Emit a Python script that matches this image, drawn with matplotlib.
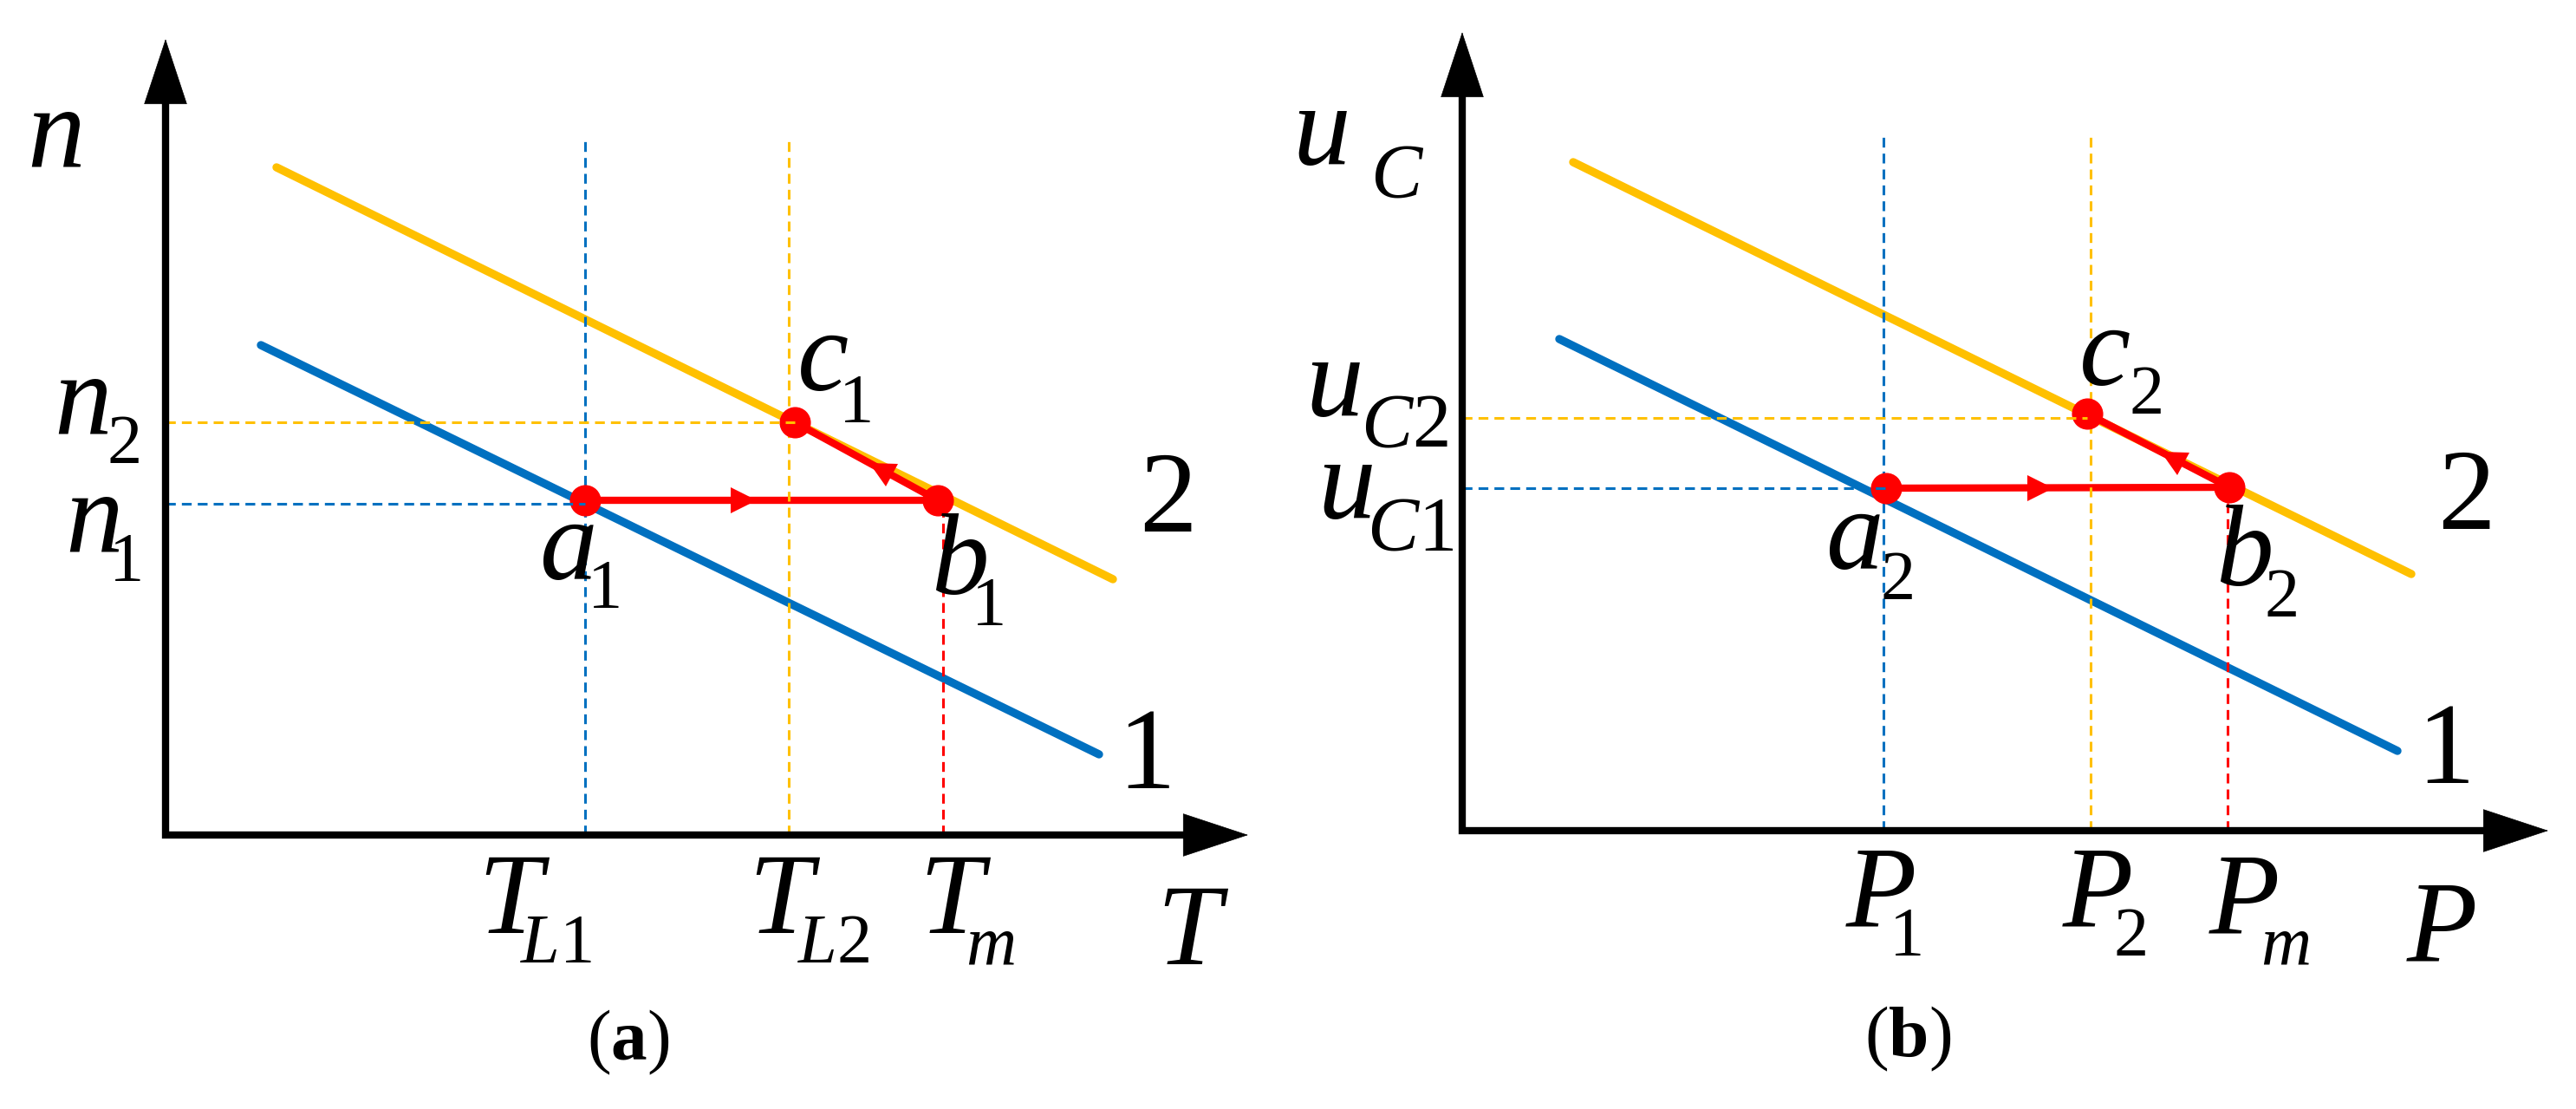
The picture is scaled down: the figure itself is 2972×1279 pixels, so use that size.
import matplotlib.pyplot as plt
from matplotlib.markers import MarkerStyle
from matplotlib.transforms import Affine2D
import numpy as np

plt.rcParams['font.family'] = ['Liberation Serif', 'DejaVu Serif']
plt.rcParams['mathtext.fontset'] = 'custom'
plt.rcParams['mathtext.rm'] = 'Liberation Serif'
plt.rcParams['mathtext.it'] = 'Liberation Serif:italic'
plt.rcParams['mathtext.bf'] = 'Liberation Serif:bold'

BLUE = '#0070C0'
YELLOW = '#FFC000'
RED = '#FF0000'

# panel (a): n over T
A_LINE2_X = [1.28, 10.93]
A_LINE2_Y = [7.70, 2.95]
A_LINE1_X = [1.10, 10.77]
A_LINE1_Y = [5.65, 0.93]
A_PTS_X = [4.84, 8.91, 7.26]   # a1, b1, c1
A_PTS_Y = [3.86, 3.86, 4.76]
A_GUIDE_X = [4.84, 7.19, 8.97]  # T_L1, T_L2, T_m
A_GUIDE_Y = [3.82, 4.76]        # n1, n2
A_GUIDE_TOP = 8.04
A_AXIS_END = [12.49, 9.18]

# panel (b): u_C over P
B_LINE2_X = [1.28, 10.95]
B_LINE2_Y = [7.71, 2.96]
B_LINE1_X = [1.12, 10.79]
B_LINE1_Y = [5.67, 0.92]
B_PTS_X = [4.89, 8.85, 7.21]   # a2, b2, c2
B_PTS_Y = [3.95, 3.96, 4.81]
B_GUIDE_X = [4.86, 7.25, 8.83]  # P1, P2, Pm
B_GUIDE_Y = [3.95, 4.76]        # u_C1, u_C2
B_GUIDE_TOP = 8.03
B_AXIS_END = [12.53, 9.21]

BIG = 96
SUB = 58
SUBC = 64
CAP = 60

# (text, x, y, size, italic)
A_LABELS = [
    ('n', -1.26, 7.71, BIG, True),
    ('n', -0.95, 4.64, BIG, True), ('2', -0.47, 4.29, SUB, False),
    ('n', -0.82, 3.27, BIG, True), ('1', -0.45, 2.93, SUB, False),
    ('a', 4.64, 2.95, BIG, True), ('1', 5.07, 2.62, SUB, False),
    ('c', 7.59, 5.13, BIG, True), ('1', 7.97, 4.76, SUB, False),
    ('b', 9.16, 2.78, BIG, True), ('1', 9.50, 2.42, SUB, False),
    ('2', 11.57, 3.50, BIG, False),
    ('1', 11.32, 0.54, BIG, False),
    ('T', 3.97, -1.13, BIG, True), ('$L$1', 4.51, -1.47, SUB, False),
    ('T', 7.09, -1.13, BIG, True), ('$L$2', 7.71, -1.47, SUB, False),
    ('T', 9.06, -1.13, BIG, True), ('m', 9.52, -1.49, SUB, True),
    ('T', 11.80, -1.49, BIG, True),
    ('(' + r'$\mathbf{a}$' + ')', 5.34, -2.59, CAP, False),
]

B_LABELS = [
    ('u', -1.62, 7.69, BIG, True), ('C', -0.76, 7.31, SUBC, True),
    ('u', -1.47, 4.79, BIG, True), ('$C$2', -0.67, 4.43, SUBC, False),
    ('u', -1.33, 3.61, BIG, True), ('$C$1', -0.60, 3.24, SUBC, False),
    ('a', 4.52, 3.02, BIG, True), ('2', 5.03, 2.67, SUB, False),
    ('c', 7.42, 5.14, BIG, True), ('2', 7.90, 4.81, SUB, False),
    ('b', 9.02, 2.83, BIG, True), ('2', 9.46, 2.47, SUB, False),
    ('2', 11.59, 3.48, BIG, False),
    ('1', 11.35, 0.55, BIG, False),
    ('P', 4.83, -1.10, BIG, True), ('1', 5.13, -1.44, SUB, False),
    ('P', 7.33, -1.10, BIG, True), ('2', 7.72, -1.44, SUB, False),
    ('P', 9.02, -1.18, BIG, True), ('m', 9.50, -1.54, SUB, True),
    ('P', 11.30, -1.50, BIG, True),
    ('(' + r'$\mathbf{b}$' + ')', 5.14, -2.60, CAP, False),
]

DASH = (0, (3.7, 2.3))


def mid_arrow(ax, p, q, frac):
    x = p[0] + frac * (q[0] - p[0])
    y = p[1] + frac * (q[1] - p[1])
    ang = np.degrees(np.arctan2(q[1] - p[1], q[0] - p[0]))
    m = MarkerStyle('>', transform=Affine2D().rotate_deg(ang))
    ax.plot(x, y, marker=m, ms=21, color=RED, mec=RED, mew=0, zorder=4)


def draw_panel(ax, xlim, ylim, l2x, l2y, l1x, l1y, px, py, gx, gy, gtop, axis_end, labels):
    ax.set_xlim(xlim)
    ax.set_ylim(ylim)
    ax.axis('off')
    xe, ye = axis_end

    # axes with arrow heads
    ax.plot([0, 0, xe - 0.4], [ye - 0.4, 0, 0], color='black', lw=6,
            solid_joinstyle='miter', solid_capstyle='butt', zorder=6)
    for tip, start in [((xe, 0), (xe - 0.8, 0)), ((0, ye), (0, ye - 0.8))]:
        ax.annotate('', xy=tip, xytext=start,
                    arrowprops=dict(arrowstyle='-|>,head_length=5.3,head_width=1.75',
                                    mutation_scale=10, color='black', lw=0.5,
                                    shrinkA=0, shrinkB=0), zorder=6)

    # characteristic lines
    ax.plot(l2x, l2y, color=YELLOW, lw=6.8, solid_capstyle='round', zorder=2)
    ax.plot(l1x, l1y, color=BLUE, lw=6.8, solid_capstyle='round', zorder=2)

    # guide lines
    ax.plot([gx[0], gx[0]], [0, gtop], color=BLUE, lw=2.2, ls=DASH, zorder=3.5)
    ax.plot([gx[1], gx[1]], [0, gtop], color=YELLOW, lw=2.2, ls=DASH, zorder=3.5)
    ax.plot([gx[2], gx[2]], [0, py[1]], color=RED, lw=2.2, ls=DASH, zorder=3.5)
    ax.plot([0, px[0]], [gy[0], gy[0]], color=BLUE, lw=2.2, ls=DASH, zorder=5)
    ax.plot([0, px[2]], [gy[1], gy[1]], color=YELLOW, lw=2.2, ls=DASH, zorder=5)

    # operating path a -> b -> c
    ax.plot(px, py, color=RED, lw=6, solid_joinstyle='round', zorder=3)
    ax.plot(px, py, 'o', ms=26, color=RED, mew=0, zorder=4)
    a, b, c = list(zip(px, py))
    mid_arrow(ax, a, b, 0.45)
    mid_arrow(ax, b, c, 0.40)

    for txt, x, y, size, it in labels:
        ax.text(x, y, txt, fontsize=size, ha='center', va='baseline',
                family='Liberation Serif', style='italic' if it else 'normal', zorder=7)


fig = plt.figure(figsize=(29.72, 12.79), dpi=100)
ax_a = fig.add_axes([0, 0, 0.5, 1])
ax_b = fig.add_axes([0.5, 0, 0.5, 1])

draw_panel(ax_a, (-1.91, 12.95), (-3.16, 9.63), A_LINE2_X, A_LINE2_Y, A_LINE1_X, A_LINE1_Y,
           A_PTS_X, A_PTS_Y, A_GUIDE_X, A_GUIDE_Y, A_GUIDE_TOP, A_AXIS_END, A_LABELS)
draw_panel(ax_b, (-2.01, 12.85), (-3.21, 9.58), B_LINE2_X, B_LINE2_Y, B_LINE1_X, B_LINE1_Y,
           B_PTS_X, B_PTS_Y, B_GUIDE_X, B_GUIDE_Y, B_GUIDE_TOP, B_AXIS_END, B_LABELS)

fig.savefig('out.png', dpi=100)
